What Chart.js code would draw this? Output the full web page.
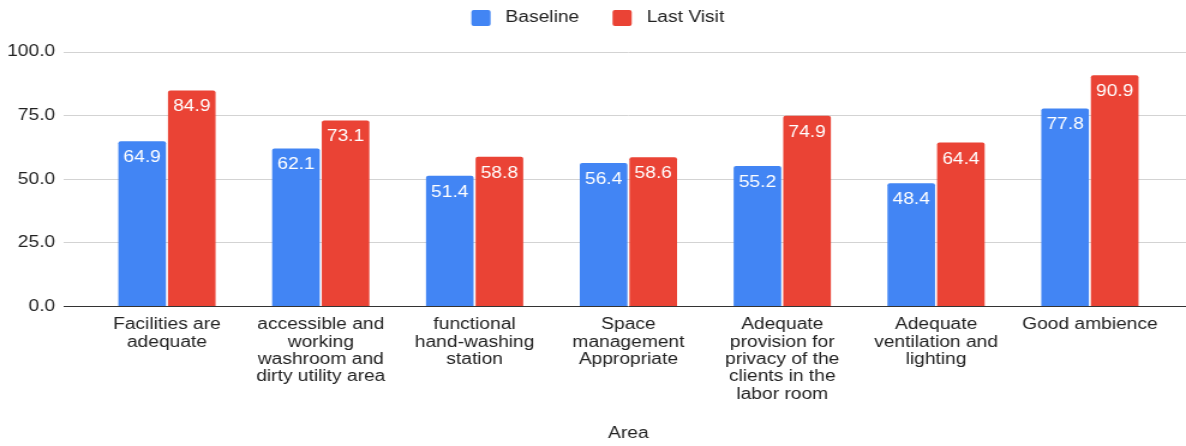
<!DOCTYPE html>
<html>
<head>
    <title>Area - Baseline vs Last Visit</title>
    <script src="https://cdn.jsdelivr.net/npm/chart.js"></script>
    <style>
        body { margin: 0; background: #fff; }
        /* the original picture is stretched sideways, so the canvas is too */
        #areaChart { display: block; width: 1186px !important; height: 446px !important; }
    </style>
</head>
<body>
    <canvas id="areaChart" width="988" height="446"></canvas>

    <script>
        const categories = [
            ['Facilities are', 'adequate'],
            ['accessible and', 'working', 'washroom and', 'dirty utility area'],
            ['functional', 'hand-washing', 'station'],
            ['Space', 'management', 'Appropriate'],
            ['Adequate', 'provision for', 'privacy of the', 'clients in the', 'labor room'],
            ['Adequate', 'ventilation and', 'lighting'],
            ['Good ambience']
        ];
        const baseline = [64.9, 62.1, 51.4, 56.4, 55.2, 48.4, 77.8];
        const lastVisit = [84.9, 73.1, 58.8, 58.6, 74.9, 64.4, 90.9];
        const seriesNames = ['Baseline', 'Last Visit'];
        const yTicks = [0, 25, 50, 75, 100];

        const FONT = 'Arial, "Liberation Sans", sans-serif';
        const GRID = '#d3d3d3';
        const BASE = '#333333';

        // white value labels inside the top of each bar
        const valueLabels = {
            id: 'valueLabels',
            afterDatasetsDraw(chart) {
                const ctx = chart.ctx;
                ctx.save();
                ctx.fillStyle = '#ffffff';
                ctx.font = '16px ' + FONT;
                ctx.textAlign = 'center';
                ctx.textBaseline = 'alphabetic';
                chart.data.datasets.forEach((ds, i) => {
                    chart.getDatasetMeta(i).data.forEach((bar, j) => {
                        ctx.fillText(ds.data[j].toFixed(1), bar.x, bar.y + 21);
                    });
                });
                ctx.restore();
            }
        };

        // grid lines run on to the right edge of the picture
        const gridRunOut = {
            id: 'gridRunOut',
            beforeDatasetsDraw(chart) {
                const ctx = chart.ctx;
                const y = chart.scales.y;
                ctx.save();
                ctx.lineWidth = 1;
                y.ticks.forEach(t => {
                    const py = Math.round(y.getPixelForValue(t.value) - 0.5) + 0.5;
                    ctx.strokeStyle = t.value === 0 ? BASE : GRID;
                    ctx.beginPath();
                    ctx.moveTo(chart.chartArea.right, py);
                    ctx.lineTo(chart.width, py);
                    ctx.stroke();
                });
                ctx.restore();
            }
        };

        // more room under the legend, and centre it on the whole picture
        const legendSpace = {
            id: 'legendSpace',
            beforeInit(chart) {
                const fit = chart.legend.fit;
                chart.legend.fit = function () {
                    fit.bind(chart.legend)();
                    this.height += 16;
                };
            },
            afterLayout(chart) {
                chart.legend.left += 12;
                chart.legend.right += 12;
            }
        };

        const ctx = document.getElementById('areaChart').getContext('2d');
        const areaChart = new Chart(ctx, {
            type: 'bar',
            data: {
                labels: categories,
                datasets: [{
                    label: seriesNames[0],
                    data: baseline,
                    backgroundColor: '#4285F4'
                }, {
                    label: seriesNames[1],
                    data: lastVisit,
                    backgroundColor: '#EA4335'
                }]
            },
            options: {
                responsive: false,
                animation: false,
                layout: { padding: { top: 0, right: 16, left: 0, bottom: 0 } },
                datasets: {
                    bar: {
                        categoryPercentage: 0.645,
                        barPercentage: 0.96,
                        borderRadius: { topLeft: 2, topRight: 2 },
                        borderSkipped: 'bottom'
                    }
                },
                plugins: {
                    tooltip: { enabled: false },
                    legend: {
                        position: 'top',
                        labels: {
                            color: '#222',
                            font: { family: FONT, size: 16 },
                            boxWidth: 16,
                            boxHeight: 16,
                            useBorderRadius: true,
                            borderRadius: 2,
                            padding: 10,
                            generateLabels(chart) {
                                const items = Chart.defaults.plugins.legend.labels.generateLabels(chart);
                                items.forEach((it, i) => {
                                    it.lineWidth = 0;
                                    it.text = ' ' + it.text + (i < items.length - 1 ? '    ' : '');
                                });
                                return items;
                            }
                        }
                    }
                },
                scales: {
                    x: {
                        grid: { display: false, drawTicks: false },
                        border: { display: false },
                        ticks: {
                            color: '#222',
                            font: { family: FONT, size: 16, lineHeight: 1.08 },
                            maxRotation: 0,
                            autoSkip: false,
                            padding: 10
                        },
                        title: {
                            display: true,
                            text: 'Area',
                            color: '#222',
                            font: { family: FONT, size: 16 },
                            padding: { top: 11, bottom: 3 }
                        }
                    },
                    y: {
                        min: 0,
                        max: 100,
                        afterBuildTicks(scale) {
                            scale.ticks = yTicks.map(v => ({ value: v }));
                        },
                        afterFit(scale) {
                            scale.width = 75;
                        },
                        border: { display: false },
                        grid: {
                            color: c => c.tick && c.tick.value === 0 ? BASE : GRID,
                            tickColor: c => c.tick && c.tick.value === 0 ? BASE : GRID,
                            drawTicks: true,
                            tickLength: 22
                        },
                        ticks: {
                            color: '#222',
                            font: { family: FONT, size: 16 },
                            padding: 7,
                            callback: v => v.toFixed(1)
                        }
                    }
                }
            },
            plugins: [legendSpace, gridRunOut, valueLabels]
        });
    </script>
</body>
</html>
